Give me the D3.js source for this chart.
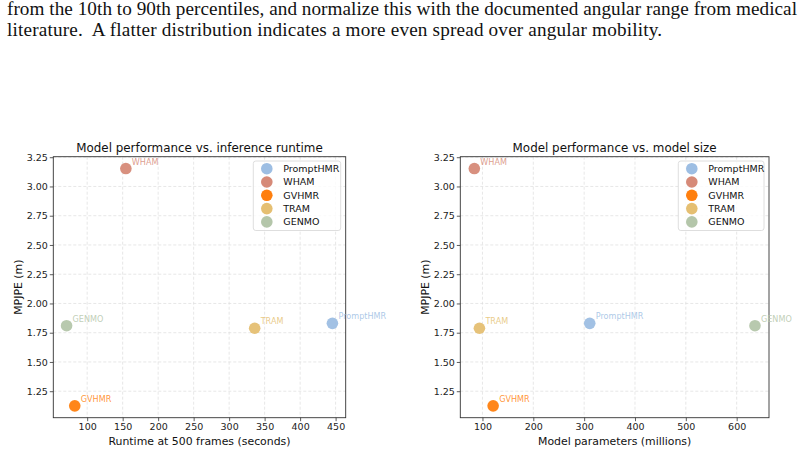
<!DOCTYPE html>
<html><head><meta charset="utf-8">
<script src="https://cdn.jsdelivr.net/npm/d3@7"></script>
<style>
html,body{margin:0;padding:0;background:#fff;}
svg{display:block;}
</style></head>
<body>
<svg id="c" width="804" height="455"></svg>
<script>
const models = ["PromptHMR","WHAM","GVHMR","TRAM","GENMO"];
const mpjpe = [1.83, 3.153, 1.125, 1.788, 1.81];
const runtime = [445.5, 154.5, 82.5, 336, 71];
const params = [311, 84, 121, 94, 636];
const colors = ["#9dbee3","#d68a78","#ff7f0e","#e5bf72","#b4c6aa"];
const yTicks = [1.25,1.50,1.75,2.00,2.25,2.50,2.75,3.00,3.25];
const xTicksRuntime = [100,150,200,250,300,350,400,450];
const xTicksParams = [100,200,300,400,500,600];
const textLines = [
  "from the 10th to 90th percentiles, and normalize this with the documented angular range from medical",
  "literature.  A flatter distribution indicates a more even spread over angular mobility."
];

const svg = d3.select("#c");
const font = "DejaVu Sans, sans-serif";
const serif = "Liberation Serif, Times New Roman, serif";

svg.append("text").attr("x",7).attr("y",14.5)
  .attr("font-family",serif).attr("font-size",19.2)
  .attr("textLength",790).attr("lengthAdjust","spacing")
  .attr("fill","#111").text(textLines[0]);
svg.append("text").attr("x",7).attr("y",35.5)
  .attr("font-family",serif).attr("font-size",19.2)
  .attr("textLength",655).attr("lengthAdjust","spacing")
  .attr("fill","#111").style("white-space","pre").text(textLines[1]);

function pad(ext){const r=ext[1]-ext[0];return [ext[0]-0.05*r, ext[1]+0.05*r];}

function panel(opts){
  const {left,right,top,bottom,xs,xTicks,title,xlabel,legendX,legendW} = opts;
  const x = d3.scaleLinear().domain(pad(d3.extent(xs))).range([left,right]);
  const y = d3.scaleLinear().domain(pad(d3.extent(mpjpe))).range([bottom,top]);
  const g = svg.append("g");
  // grid
  g.selectAll(".gx").data(xTicks).enter().append("line")
    .attr("x1",d=>x(d)).attr("x2",d=>x(d)).attr("y1",top).attr("y2",bottom)
    .attr("stroke","#dcdcdc").attr("stroke-width",0.7).attr("stroke-dasharray","3,2");
  g.selectAll(".gy").data(yTicks).enter().append("line")
    .attr("y1",d=>y(d)).attr("y2",d=>y(d)).attr("x1",left).attr("x2",right)
    .attr("stroke","#dcdcdc").attr("stroke-width",0.7).attr("stroke-dasharray","3,2");
  // axes
  const xa = g.append("g").attr("transform",`translate(0,${bottom})`)
    .call(d3.axisBottom(x).tickValues(xTicks).tickSize(3.5).tickSizeOuter(0).tickFormat(d3.format("d")));
  const ya = g.append("g").attr("transform",`translate(${left},0)`)
    .call(d3.axisLeft(y).tickValues(yTicks).tickSize(3.5).tickSizeOuter(0).tickFormat(d3.format(".2f")));
  [xa,ya].forEach(a=>{
    a.select(".domain").remove();
    a.selectAll("line").attr("stroke","#333").attr("stroke-width",0.8);
    a.selectAll("text").attr("font-family",font).attr("font-size",9.5).attr("fill","#222");
  });
  xa.selectAll("text").attr("dy","0.71em").attr("y",5.5);
  ya.selectAll("text").attr("x",-5.5);
  // spines
  g.append("rect").attr("x",left).attr("y",top).attr("width",right-left).attr("height",bottom-top)
    .attr("fill","none").attr("stroke","#333").attr("stroke-width",0.9);
  // points
  models.forEach((m,i)=>{
    g.append("circle").attr("cx",x(xs[i])).attr("cy",y(mpjpe[i])).attr("r",5.8)
      .attr("fill",colors[i]).attr("fill-opacity",0.95);
    g.append("text").attr("x",x(xs[i])+6).attr("y",y(mpjpe[i])-4)
      .attr("font-family",font).attr("font-size",8.1).attr("fill",colors[i]).attr("fill-opacity",0.85)
      .text(m);
  });
  // title
  g.append("text").attr("x",(left+right)/2).attr("y",top-5).attr("text-anchor","middle")
    .attr("font-family",font).attr("font-size",11.9).attr("fill","#111").text(title);
  // labels
  g.append("text").attr("x",(left+right)/2).attr("y",445).attr("text-anchor","middle")
    .attr("font-family",font).attr("font-size",10.9).attr("fill","#111").text(xlabel);
  g.append("text").attr("transform",`translate(${left-31},${(top+bottom)/2}) rotate(-90)`)
    .attr("text-anchor","middle").attr("font-family",font).attr("font-size",10.9).attr("fill","#111")
    .text("MPJPE (m)");
  // legend
  const lt = 161, lh = 69.5;
  g.append("rect").attr("x",legendX).attr("y",lt).attr("width",legendW).attr("height",lh)
    .attr("rx",2.5).attr("fill","#fff").attr("fill-opacity",0.8).attr("stroke","#d5d5d5").attr("stroke-width",0.8);
  models.forEach((m,i)=>{
    const cy = lt+7.7+i*13.3;
    g.append("circle").attr("cx",legendX+13.5).attr("cy",cy).attr("r",5.8).attr("fill",colors[i]);
    g.append("text").attr("x",legendX+30).attr("y",cy+3.4).attr("font-family",font)
      .attr("font-size",9.5).attr("fill","#111").text(m);
  });
}

panel({left:53.3,right:345.7,top:156.7,bottom:417.7,xs:runtime,xTicks:xTicksRuntime,
  title:"Model performance vs. inference runtime",xlabel:"Runtime at 500 frames (seconds)",legendX:253.3,legendW:87.4});
panel({left:460.3,right:769,top:156.7,bottom:417.7,xs:params,xTicks:xTicksParams,
  title:"Model performance vs. model size",xlabel:"Model parameters (millions)",legendX:678.3,legendW:85.7});
</script>
</body></html>
